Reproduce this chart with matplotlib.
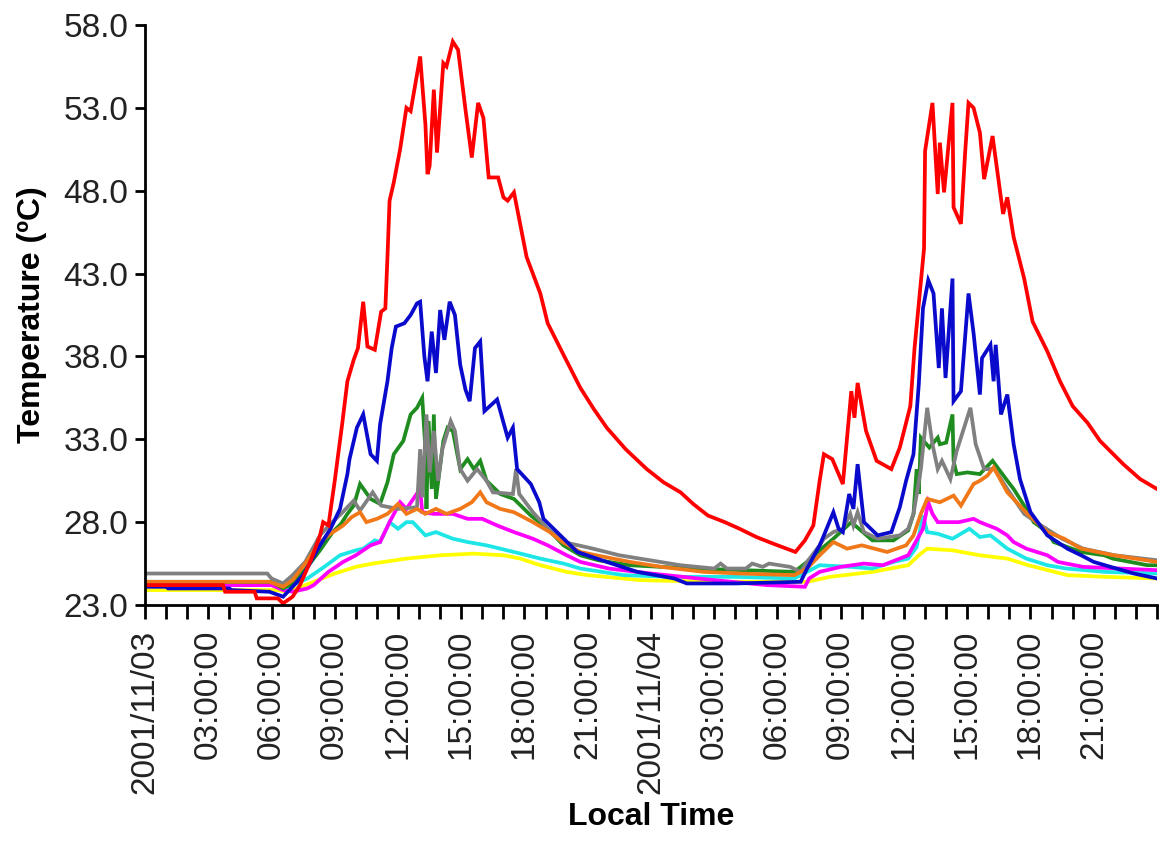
import matplotlib
matplotlib.use("Agg")
import matplotlib.pyplot as plt

plt.rcParams['font.family'] = ['Liberation Sans', 'DejaVu Sans']

# hours since 2001/11/03 00:00, temperature in deg C
red_h = [0, 3.7, 3.8, 5.2, 5.3, 6.3, 6.55, 7.0, 7.35, 7.9, 8.3, 8.45, 8.7, 9.0, 9.35, 9.6, 9.9, 10.1,
         10.35, 10.55, 10.9, 11.2, 11.4, 11.5, 11.6, 11.8, 12.1, 12.4, 12.6, 13.05, 13.3, 13.4, 13.5,
         13.7, 13.85, 14.15, 14.3, 14.6, 14.85, 15.2, 15.5, 15.8, 16.05, 16.3, 16.75, 17.0, 17.2, 17.5,
         18.1, 18.75, 19.1, 19.85, 20.65, 21.3, 21.9, 22.8, 23.8, 24.6, 25.4, 26.0, 26.7, 27.5, 28.2,
         29.0, 29.8, 30.85, 31.3, 31.7, 32.0, 32.2, 32.6, 33.1, 33.5, 33.65, 33.8, 34.2, 34.7, 35.4,
         35.8, 36.3, 36.5, 36.8, 36.95, 37.0, 37.35, 37.6, 37.7, 37.9, 38.3, 38.35, 38.7, 38.9, 39.06,
         39.3, 39.6, 39.8, 40.2, 40.7, 40.9, 41.2, 41.7, 42.1, 42.8, 43.4, 44.0, 44.7, 45.3, 46.4,
         47.2, 48.0]
red_t = [24.2, 24.2, 23.8, 23.8, 23.4, 23.4, 23.1, 23.5, 24.2, 25.8, 27.2, 28.0, 27.8, 30.5, 33.9, 36.5,
         37.8, 38.5, 41.3, 38.6, 38.4, 40.7, 40.9, 44.0, 47.4, 48.5, 50.5, 53.0, 52.8, 56.1, 52.0, 49.0,
         49.5, 54.1, 50.3, 55.7, 55.5, 57.0, 56.5, 52.9, 50.0, 53.3, 52.4, 48.8, 48.8, 47.6, 47.4, 47.9,
         44.0, 41.8, 40.0, 38.1, 36.1, 34.8, 33.7, 32.4, 31.2, 30.4, 29.8, 29.1, 28.4, 28.0, 27.6, 27.1,
         26.7, 26.2, 26.9, 27.8, 30.5, 32.1, 31.8, 30.3, 35.9, 34.3, 36.4, 33.5, 31.7, 31.2, 32.5, 35.0,
         38.5, 42.5, 44.5, 50.4, 53.3, 47.8, 50.9, 47.9, 53.3, 47.0, 46.0, 50.3, 53.3, 53.0, 51.5, 48.7,
         51.3, 46.6, 47.6, 45.2, 42.7, 40.1, 38.3, 36.5, 35.0, 34.0, 32.9, 31.5, 30.6, 30.0]

blue_h = [0, 1.0, 1.1, 4.0, 4.1, 5.9, 6.55, 7.0, 7.5, 8.3, 8.8, 9.25, 9.6, 9.7, 10.05, 10.35, 10.7, 11.0,
          11.15, 11.5, 11.7, 11.9, 12.3, 12.6, 12.9, 13.05, 13.25, 13.4, 13.6, 13.8, 14.0, 14.2, 14.45,
          14.7, 14.95, 15.2, 15.4, 15.65, 15.9, 16.1, 16.7, 17.2, 17.45, 17.65, 18.3, 18.7, 18.9, 19.7,
          20.5, 21.9, 23.35, 25.1, 25.7, 28.0, 31.1, 31.4, 32.0, 32.2, 32.65, 32.9, 33.1, 33.4, 33.6,
          33.8, 34.1, 34.75, 35.4, 35.8, 36.1, 36.45, 36.7, 36.9, 37.15, 37.4, 37.65, 37.8, 37.97, 38.3,
          38.35, 38.7, 39.06, 39.3, 39.6, 39.7, 40.1, 40.25, 40.35, 40.6, 40.9, 41.2, 41.5, 42.0, 42.8,
          43.75, 44.4, 45.0, 45.8, 46.9, 48.0]
blue_t = [24.1, 24.1, 24.0, 24.0, 23.9, 23.8, 23.5, 24.1, 24.8, 26.6, 27.6, 28.8, 30.9, 31.8, 33.7, 34.5,
          32.1, 31.7, 33.9, 36.5, 38.5, 39.8, 40.0, 40.5, 41.2, 41.3, 38.0, 36.5, 39.5, 37.0, 40.8, 39.0,
          41.3, 40.5, 37.5, 36.0, 35.3, 38.5, 38.9, 34.7, 35.4, 33.1, 33.7, 31.2, 30.3, 29.2, 28.2, 27.2,
          26.2, 25.6, 25.0, 24.6, 24.3, 24.3, 24.4, 25.2, 26.6, 27.2, 28.6, 27.6, 27.4, 29.7, 28.8, 31.5,
          28.0, 27.2, 27.4, 28.9, 30.5, 32.1, 36.3, 40.9, 42.6, 41.8, 37.3, 40.9, 36.7, 42.7, 35.3, 35.9,
          41.8, 39.4, 35.7, 37.9, 38.7, 36.5, 38.7, 34.5, 35.7, 32.7, 30.6, 28.6, 27.2, 26.4, 26.0, 25.6,
          25.3, 24.9, 24.6]

green_h = [0, 6.0, 6.55, 7.0, 7.7, 8.3, 8.9, 9.3, 9.6, 9.9, 10.2, 10.7, 11.15, 11.5, 11.8, 12.25, 12.6,
           12.9, 13.15, 13.3, 13.35, 13.45, 13.6, 13.7, 13.8, 14.15, 14.35, 14.6, 14.95, 15.3, 15.6,
           15.9, 16.2, 16.85, 17.5, 18.3, 19.1, 19.85, 20.65, 21.5, 23.0, 26.0, 30.8, 31.4, 32.0, 32.65,
           33.5, 34.5, 35.5, 36.2, 36.45, 36.6, 36.7, 36.8, 37.2, 37.6, 37.7, 38.0, 38.3, 38.35, 38.5,
           39.0, 39.6, 40.2, 40.9, 41.2, 41.9, 42.15, 42.8, 43.1, 44.4, 45.5, 45.9, 47.55, 48.0]
green_t = [24.4, 24.4, 24.0, 24.3, 25.3, 26.3, 27.4, 27.9, 28.5, 29.0, 30.3, 29.4, 29.1, 30.4, 32.1,
           32.9, 34.5, 34.9, 35.5, 32.4, 28.8, 34.1, 30.0, 34.5, 29.4, 32.9, 33.7, 33.5, 31.2, 31.8, 31.2,
           31.7, 30.5, 29.7, 29.4, 28.4, 27.6, 26.6, 26.0, 25.7, 25.4, 25.2, 25.0, 25.6, 26.3, 27.0, 28.0,
           26.9, 26.9, 27.5, 28.5, 31.2, 29.7, 33.1, 32.5, 33.1, 32.7, 32.8, 34.5, 31.7, 30.9, 31.0, 30.9,
           31.7, 30.5, 30.0, 28.6, 28.0, 27.4, 26.8, 26.2, 26.0, 25.8, 25.4, 25.4]

gray_h = [0, 5.8, 6.0, 6.55, 7.0, 7.6, 8.3, 8.8, 9.3, 9.9, 10.2, 10.8, 11.2, 12.0, 12.9, 13.05, 13.15,
          13.35, 13.5, 13.7, 13.9, 14.1, 14.5, 14.7, 14.95, 15.3, 15.75, 16.2, 16.5, 17.45, 17.6, 17.75,
          18.4, 19.1, 19.85, 21.25, 22.5, 25.4, 27.0, 27.3, 27.6, 28.5, 28.8, 29.3, 29.6, 30.6, 31.1,
          31.4, 32.0, 32.2, 32.65, 33.1, 33.45, 33.6, 33.8, 34.1, 34.75, 35.8, 36.2, 36.45, 36.8, 37.1,
          37.35, 37.6, 37.8, 38.2, 38.5, 39.15, 39.4, 39.8, 40.3, 40.9, 41.7, 42.5, 43.5, 44.5, 46.0, 48.0]
gray_t = [24.9, 24.9, 24.6, 24.3, 24.8, 25.6, 27.2, 27.9, 28.5, 29.3, 28.7, 29.8, 29.0, 28.8, 28.9, 32.4,
          29.5, 34.5, 31.0, 33.5, 30.5, 32.4, 34.1, 33.5, 31.2, 30.5, 31.2, 30.5, 29.8, 29.7, 31.2, 29.7,
          28.6, 27.6, 26.8, 26.4, 26.0, 25.4, 25.2, 25.5, 25.2, 25.2, 25.5, 25.3, 25.5, 25.3, 25.0, 25.6,
          26.6, 27.0, 27.4, 27.6, 28.5, 27.8, 28.6, 27.4, 27.0, 27.2, 27.6, 28.5, 31.2, 34.9, 32.7, 31.2,
          31.7, 30.6, 32.3, 34.9, 32.7, 31.2, 31.2, 30.0, 28.5, 27.8, 27.0, 26.4, 26.0, 25.7]

orange_h = [0, 5.9, 6.55, 7.0, 7.6, 8.3, 8.8, 9.4, 9.8, 10.2, 10.5, 11.0, 11.5, 12.0, 12.4, 12.9, 13.3,
            13.8, 14.3, 14.95, 15.5, 15.9, 16.2, 16.85, 17.5, 18.4, 19.2, 19.8, 20.65, 21.4, 23.0, 24.5,
            26.5, 28.2, 30.8, 31.4, 32.0, 32.65, 33.3, 34.0, 35.2, 36.1, 36.45, 36.8, 37.1, 37.7, 38.35,
            38.7, 39.3, 39.6, 39.95, 40.25, 40.9, 41.85, 42.8, 43.6, 44.4, 45.95, 48.0]
orange_t = [24.4, 24.4, 24.1, 24.5, 25.5, 26.8, 27.3, 27.8, 28.3, 28.6, 28.0, 28.2, 28.5, 29.1, 28.5,
            28.8, 28.5, 28.8, 28.5, 28.8, 29.2, 29.8, 29.2, 28.8, 28.6, 28.0, 27.4, 26.8, 26.2, 26.0, 25.6,
            25.3, 25.0, 24.9, 24.8, 25.2, 26.0, 26.8, 26.4, 26.6, 26.2, 26.6, 27.2, 28.5, 29.4, 29.2, 29.6,
            29.0, 30.3, 30.5, 30.8, 31.3, 29.8, 28.5, 27.4, 27.0, 26.4, 26.0, 25.6]

magenta_h = [0, 6.0, 6.55, 7.0, 7.7, 8.0, 8.7, 9.4, 10.0, 10.7, 11.15, 11.6, 12.1, 12.4, 13.05, 13.15,
             13.7, 14.6, 15.3, 16.0, 16.7, 17.5, 18.4, 19.1, 20.0, 20.65, 22.0, 24.0, 27.0, 29.5, 31.3,
             31.5, 32.0, 33.0, 34.1, 35.0, 36.2, 36.9, 37.15, 37.35, 37.6, 38.6, 39.3, 39.6, 40.4, 40.9,
             41.2, 41.8, 42.8, 43.3, 44.5, 48.0]
magenta_t = [24.2, 24.2, 23.9, 23.8, 24.0, 24.2, 25.0, 25.6, 26.0, 26.6, 26.8, 28.0, 29.2, 28.8, 30.0,
             28.6, 28.5, 28.5, 28.2, 28.2, 27.8, 27.4, 27.0, 26.6, 26.0, 25.6, 25.2, 24.9, 24.5, 24.2,
             24.1, 24.6, 25.0, 25.3, 25.5, 25.4, 26.0, 27.6, 29.2, 28.5, 28.0, 28.0, 28.2, 28.0, 27.6,
             27.2, 26.8, 26.4, 26.0, 25.6, 25.3, 25.1]

cyan_h = [0, 6.0, 6.55, 7.0, 7.7, 8.5, 9.25, 10.0, 10.35, 10.9, 11.15, 11.6, 12.0, 12.4, 12.7, 13.0,
          13.3, 13.8, 14.2, 14.6, 15.3, 16.2, 17.5, 18.75, 19.85, 20.65, 22.7, 25.0, 28.0, 30.8, 31.4,
          32.0, 33.5, 34.5, 35.5, 36.2, 36.6, 36.9, 37.1, 37.6, 38.3, 39.1, 39.6, 40.1, 40.9, 41.8,
          42.8, 43.7, 45.5, 48.0]
cyan_t = [24.3, 24.3, 24.0, 24.2, 24.6, 25.3, 26.0, 26.3, 26.4, 26.9, 26.8, 28.0, 27.6, 28.0, 28.0,
          27.6, 27.2, 27.4, 27.2, 27.0, 26.8, 26.6, 26.2, 25.8, 25.5, 25.2, 24.8, 24.7, 24.7, 24.6, 25.0,
          25.4, 25.3, 25.2, 25.6, 25.8, 26.5, 28.4, 27.4, 27.3, 27.0, 27.6, 27.1, 27.2, 26.4, 25.8, 25.4,
          25.2, 25.0, 24.9]

yellow_h = [0, 6.3, 6.7, 7.2, 8.0, 9.0, 10.0, 10.8, 12.4, 14.0, 15.6, 17.0, 17.8, 18.75, 20.0, 21.0,
            23.5, 27.0, 31.4, 32.5, 34.5, 36.2, 36.7, 37.1, 38.3, 39.6, 40.9, 41.9, 43.75, 45.5, 48.0]
yellow_t = [23.9, 23.9, 23.8, 24.0, 24.4, 24.9, 25.3, 25.5, 25.8, 26.0, 26.1, 26.0, 25.8, 25.4, 25.0,
            24.8, 24.5, 24.4, 24.4, 24.7, 25.0, 25.4, 26.0, 26.4, 26.3, 26.0, 25.8, 25.4, 24.8, 24.7, 24.6]

series = [
    (yellow_h, yellow_t, '#FFFF00'),
    (cyan_h, cyan_t, '#1EE6E6'),
    (magenta_h, magenta_t, '#FF00FF'),
    (green_h, green_t, '#1E8C1E'),
    (gray_h, gray_t, '#808080'),
    (orange_h, orange_t, '#F07818'),
    (blue_h, blue_t, '#0A0ACD'),
    (red_h, red_t, '#FF0000'),
]

tick_hours = list(range(0, 49))
label_hours = [0, 3, 6, 9, 12, 15, 18, 21, 24, 27, 30, 33, 36, 39, 42, 45]
label_text = ['2001/11/03', '03:00:00', '06:00:00', '09:00:00', '12:00:00', '15:00:00',
              '18:00:00', '21:00:00', '2001/11/04', '03:00:00', '06:00:00', '09:00:00',
              '12:00:00', '15:00:00', '18:00:00', '21:00:00']
y_ticks = [23, 28, 33, 38, 43, 48, 53, 58]

fig = plt.figure(figsize=(11.76, 8.44), dpi=100)
ax = fig.add_axes([145 / 1176, 1 - 605 / 844, (1157 - 145) / 1176, (605 - 25) / 844])

for h, t, c in series:
    ax.plot(h, t, color=c, lw=2.7, solid_joinstyle='miter')

ax.set_xlim(0, 48)
ax.set_ylim(23, 58)

ax.set_xticks(tick_hours)
labels = [''] * len(tick_hours)
for hr, txt in zip(label_hours, label_text):
    labels[hr] = txt
ax.set_xticklabels(labels, rotation=90, fontsize=24, color='#222222')
ax.set_yticks(y_ticks)
ax.set_yticklabels([f"{v:.1f}" for v in y_ticks], fontsize=24, color='#222222')

ax.tick_params(axis='x', direction='out', length=10, width=2, pad=8)
ax.tick_params(axis='y', direction='out', length=7, width=2, pad=5)

for side in ['top', 'right']:
    ax.spines[side].set_visible(False)
for side in ['left', 'bottom']:
    ax.spines[side].set_linewidth(2)
    ax.spines[side].set_color('black')

ax.set_ylabel('Temperature (ºC)', fontsize=23, fontweight='bold', labelpad=12)
ax.set_xlabel('Local Time', fontsize=23, fontweight='bold', labelpad=6)

fig.savefig('out.png', dpi=100, facecolor='white')
